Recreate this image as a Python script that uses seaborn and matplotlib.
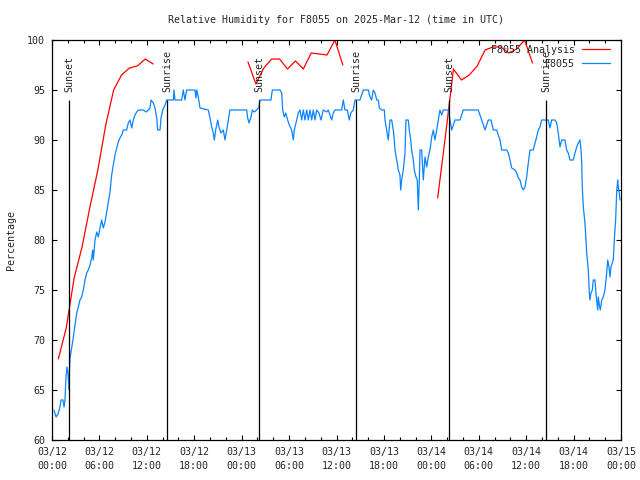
import numpy as np
import pandas as pd
import matplotlib
matplotlib.use('Agg')
import matplotlib.pyplot as plt
import seaborn as sns

# hours since 2025-03-12 00:00 UTC
analysis_hours = [0.8, 1.8, 2.8, 3.8, 4.8, 5.8, 6.8, 7.8, 8.8, 9.8, 10.8, 11.8, 12.8,
                  24.8, 25.8, 26.8, 27.8, 28.8, 29.8, 30.8, 31.8, 32.8, 33.8, 34.8, 35.8, 36.8,
                  48.8, 49.8, 50.8, 51.8, 52.8, 53.8, 54.8, 55.8, 56.8, 57.8, 58.8, 59.8, 60.8]
analysis_rh = [68.1, 71.2, 76.2, 79.3, 83.3, 87.0, 91.5, 95.0, 96.5, 97.2, 97.4, 98.1, 97.6,
               97.8, 95.6, 97.2, 98.1, 98.1, 97.1, 97.9, 97.1, 98.7, 98.6, 98.5, 100.0, 97.5,
               84.2, 90.5, 97.1, 96.0, 96.5, 97.4, 99.0, 99.3, 99.3, 98.7, 99.1, 100.0, 97.7]
analysis_run = [0] * 13 + [1] * 13 + [2] * 13

obs_hours = [
    0.25, 0.51, 0.76, 1.01, 1.14, 1.39, 1.52, 1.64, 1.77, 1.90, 2.02, 2.15, 2.21, 2.28,
    2.49, 2.70, 2.91, 3.13, 3.33, 3.54, 3.76, 3.96, 4.18, 4.39, 4.59, 4.81, 5.02, 5.15,
    5.23, 5.44, 5.66, 5.86, 6.07, 6.29, 6.49, 6.71, 6.92, 7.12, 7.34, 7.55, 7.76, 7.97,
    8.19, 8.39, 8.60, 8.82, 9.02, 9.45, 9.65, 9.87, 10.08, 10.29, 10.50, 10.72, 10.92,
    11.55, 11.89, 12.19, 12.40, 12.53, 12.82, 13.03, 13.25, 13.37, 13.67, 13.79, 14.01,
    14.30, 14.51, 14.72, 15.35, 15.44, 15.56, 16.41, 16.61, 16.83, 17.04, 18.09, 18.22,
    18.31, 18.51, 18.73, 19.78, 19.99, 20.21, 20.41, 20.54, 20.71, 20.97, 21.13, 21.38,
    21.68, 21.89, 22.11, 22.31, 22.52, 24.64, 24.76, 24.93, 25.18, 25.35, 25.60, 25.90,
    26.19, 26.32, 27.71, 27.88, 28.85, 29.07, 29.19, 29.39, 29.57, 29.82, 30.03, 30.33,
    30.53, 30.66, 30.96, 31.17, 31.38, 31.59, 31.80, 32.01, 32.23, 32.43, 32.65, 32.86,
    33.06, 33.28, 33.49, 33.78, 34.04, 34.33, 34.76, 34.96, 35.39, 35.59, 35.81, 36.66,
    36.86, 37.07, 37.37, 37.62, 37.80, 38.12, 38.34, 38.97, 39.39, 40.02, 40.24, 40.45,
    40.66, 40.87, 41.09, 41.29, 41.42, 41.72, 42.05, 42.14, 42.35, 42.55, 42.77, 42.98,
    43.19, 43.31, 43.40, 43.62, 43.82, 44.03, 44.12, 44.25, 44.45, 44.67, 44.79, 45.08,
    45.21, 45.39, 45.51, 45.72, 45.84, 46.06, 46.22, 46.35, 46.48, 46.57, 46.78, 46.91,
    46.98, 47.20, 47.41, 47.61, 47.83, 48.05, 48.25, 48.46, 48.68, 48.88, 49.09, 49.31,
    49.51, 49.94, 50.15, 50.36, 50.58, 50.78, 50.99, 51.63, 51.84, 52.04, 53.94, 54.16,
    54.37, 54.79, 55.00, 55.21, 55.55, 55.84, 56.27, 56.47, 56.69, 56.90, 57.54, 57.74,
    57.95, 58.17, 58.59, 58.80, 59.00, 59.22, 59.43, 59.63, 59.85, 60.06, 60.27, 60.48,
    60.90, 61.12, 61.33, 61.53, 61.75, 61.96, 62.80, 63.01, 63.23, 63.65, 63.86, 64.06,
    64.28, 64.49, 64.91, 65.12, 65.33, 65.54, 65.96, 66.18, 66.39, 66.60, 66.81, 66.94,
    67.03, 67.10, 67.23, 67.44, 67.66, 67.86, 67.99, 68.07, 68.20, 68.37, 68.49, 68.71,
    68.83, 68.96, 69.05, 69.13, 69.25, 69.38, 69.56, 69.76, 69.97, 70.19, 70.32, 70.48,
    70.61, 70.73, 70.90, 71.02, 71.15, 71.32, 71.45, 71.58, 71.66, 71.78, 71.87]
obs_rh = [
    63.0, 62.3, 62.6, 63.3, 64.0, 64.0, 63.3, 64.0, 66.3, 67.3, 66.7, 65.0, 67.0, 68.2,
    69.2, 70.3, 71.5, 72.7, 73.3, 74.0, 74.3, 75.0, 76.0, 76.7, 77.0, 77.5, 78.2, 79.0,
    78.0, 80.0, 80.8, 80.3, 81.2, 82.0, 81.2, 81.8, 82.8, 83.8, 84.8, 86.5, 87.5, 88.5,
    89.2, 89.8, 90.2, 90.5, 91.0, 91.0, 91.7, 92.0, 91.2, 92.0, 92.5, 92.8, 93.0,
    93.0, 92.8, 93.0, 93.2, 94.0, 93.7, 93.2, 92.2, 91.0, 91.0, 92.2, 93.0,
    93.5, 94.0, 94.0, 94.0, 95.0, 94.0, 94.0, 95.0, 94.0, 95.0, 95.0, 94.2,
    95.0, 94.3, 93.2, 93.0, 92.2, 91.3, 90.7, 90.0, 91.0, 92.0, 91.3, 90.7,
    91.0, 90.0, 91.0, 92.0, 93.0, 93.0, 92.2, 91.7, 92.3, 93.0, 92.8, 93.0,
    93.3, 94.0, 94.0, 95.0, 95.0, 94.7, 93.0, 92.3, 92.7, 92.0, 91.5, 91.0,
    90.0, 91.0, 92.0, 92.7, 93.0, 92.0, 93.0, 92.0, 93.0, 92.0, 93.0, 92.0,
    93.0, 92.0, 93.0, 92.7, 92.0, 93.0, 92.8, 93.0, 92.0, 92.7, 93.0, 93.0,
    94.0, 93.0, 93.0, 92.0, 92.7, 93.0, 94.0, 94.0, 95.0, 95.0, 94.3, 94.0,
    95.0, 94.7, 94.0, 94.0, 93.2, 93.0, 93.0, 92.0, 91.0, 90.0, 92.0, 92.0,
    91.0, 90.0, 89.0, 88.0, 87.0, 86.5, 85.0, 86.0, 87.0, 88.7, 92.0, 92.0,
    91.0, 90.0, 89.0, 88.0, 87.0, 86.3, 86.0, 83.0, 86.0, 89.0, 89.0, 87.0,
    86.0, 88.3, 87.3, 88.3, 89.0, 90.3, 91.0, 90.0, 91.0, 92.0, 93.0, 92.5,
    93.0, 93.0, 93.0, 92.0, 91.0, 91.5, 92.0, 92.0, 92.5, 93.0, 93.0, 92.5,
    92.0, 91.0, 91.5, 92.0, 92.0, 91.0, 91.0, 90.5, 90.0, 89.0, 89.0, 88.7,
    88.0, 87.2, 87.0, 86.7, 86.2, 86.0, 85.3, 85.0, 85.3, 86.3, 87.7, 89.0,
    89.0, 89.7, 90.3, 91.0, 91.3, 92.0, 92.0, 91.2, 92.0, 92.0, 91.7, 90.7,
    89.3, 90.0, 90.0, 89.0, 88.7, 88.0, 88.0, 88.7, 89.3, 89.7, 90.0, 89.0,
    87.8, 85.3, 83.3, 81.7, 78.7, 77.0, 74.7, 74.0, 74.7, 75.0, 76.0, 76.0,
    74.7, 73.7, 73.0, 74.3, 73.5, 73.0, 74.0, 74.3, 75.0, 76.7, 78.0, 77.3,
    76.3, 77.3, 77.7, 78.0, 80.0, 82.0, 84.7, 86.0, 85.3, 84.7, 84.0]

sun_hours = [2.15, 14.55, 26.2, 38.5, 50.25, 62.5]
sun_labels = ['Sunset', 'Sunrise', 'Sunset', 'Sunrise', 'Sunset', 'Sunrise']

tick_hours = list(range(0, 73, 6))
tick_labels = ['03/12\n00:00', '03/12\n06:00', '03/12\n12:00', '03/12\n18:00',
               '03/13\n00:00', '03/13\n06:00', '03/13\n12:00', '03/13\n18:00',
               '03/14\n00:00', '03/14\n06:00', '03/14\n12:00', '03/14\n18:00',
               '03/15\n00:00']

analysis = pd.DataFrame({'hours': analysis_hours, 'rh': analysis_rh, 'run': analysis_run})
obs = pd.DataFrame({'hours': obs_hours, 'rh': obs_rh})

sns.set_style('ticks')
plt.rcParams['font.family'] = ['DejaVu Sans Mono']
plt.rcParams['font.size'] = 7.2

fig = plt.figure(figsize=(6.4, 4.8), dpi=100)
ax = fig.add_axes([52 / 640, 40 / 480, 569 / 640, 400 / 480])

sns.lineplot(data=analysis, x='hours', y='rh', units='run', estimator=None,
             color='#ff0000', linewidth=0.9, ax=ax, label='F8055 Analysis')
sns.lineplot(data=obs, x='hours', y='rh', estimator=None, sort=False,
             color='#0a84ff', linewidth=0.9, ax=ax, label='F8055')

ax.vlines(sun_hours, 60, 94, color='black', linewidth=0.9)
for h, lab in zip(sun_hours, sun_labels):
    ax.text(h, 94.85, lab, rotation=90, ha='center', va='bottom', fontsize=7.2)

ax.set_xlim(0, 72)
ax.set_ylim(60, 100)
ax.set_xticks(tick_hours)
ax.set_xticklabels(tick_labels, linespacing=1.45)
ax.set_xticks(range(0, 73, 2), minor=True)
ax.set_yticks(range(60, 101, 5))
ax.tick_params(which='both', direction='in', top=True, right=True, color='black',
               width=0.8, labelsize=7.2)
ax.tick_params(which='major', length=3.5, pad=5)
ax.tick_params(which='minor', length=2)
for s in ax.spines.values():
    s.set_linewidth(0.9)
    s.set_color('black')

ax.set_xlabel('')
ax.set_ylabel('Percentage', fontsize=7.2)
ax.yaxis.set_label_coords(-0.063, 0.5)
ax.set_title('Relative Humidity for F8055 on 2025-Mar-12 (time in UTC)', fontsize=7.2, pad=12)

# one legend entry per series (the analysis is drawn in three runs)
handles, labels = ax.get_legend_handles_labels()
seen = {}
for hd, lb in zip(handles, labels):
    seen.setdefault(lb, hd)
ax.legend(list(seen.values()), list(seen.keys()),
          loc='upper right', bbox_to_anchor=((610 - 52) / 569, (440 - 45) / 400),
          frameon=False, markerfirst=False, borderpad=0, borderaxespad=0,
          handlelength=2.8, handletextpad=0.7, labelspacing=0.4, fontsize=7.2)

fig.savefig('out.png', dpi=100)
